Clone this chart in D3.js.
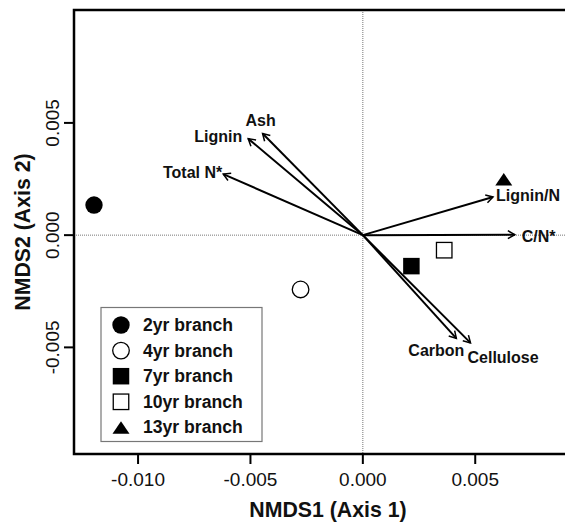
<!DOCTYPE html>
<html lang="en">
<head>
<meta charset="UTF-8">
<title>NMDS branch litter</title>
<script src="https://d3js.org/d3.v7.min.js"></script>
<style>
    body { margin: 0; background: #fff; }
    svg { display: block; font-family: "Liberation Sans", Arial, sans-serif; }
    .tick-label { font-size: 19px; fill: #111; }
    .axis-title { font-size: 21.3px; font-weight: bold; fill: #111; }
    .vec-label { font-size: 16px; font-weight: bold; fill: #111; }
    .legend-label { font-size: 17.6px; font-weight: bold; fill: #111; }
</style>
</head>
<body>
<div id="chart"></div>
<script>
// sample scores
const groups = ["2yr branch", "4yr branch", "7yr branch", "10yr branch", "13yr branch"];
const nmds1 = [-0.01196, -0.00277, 0.00216, 0.00362, 0.00627];
const nmds2 = [0.00134, -0.00242, -0.00138, -0.00067, 0.00249];
const shapes = ["circleFilled", "circleOpen", "squareFilled", "squareOpen", "triangleFilled"];

// fitted vectors
const vars = ["Ash", "Lignin", "Total N*", "Lignin/N", "C/N*", "Carbon", "Cellulose"];
const vecX = [-0.00446, -0.0051, -0.00621, 0.00579, 0.00676, 0.00416, 0.00479];
const vecY = [0.00453, 0.0043, 0.00272, 0.0017, 0.00002, -0.0046, -0.0048];

const xTicks = [-0.010, -0.005, 0.000, 0.005];
const yTicks = [-0.005, 0.000, 0.005];
const xLim = [-0.01285, 0.00975];
const yLim = [-0.00975, 0.01003];

const W = 565, H = 523;
const margin = {top: 10, left: 74};
const plotW = 508, plotH = 444;

const svg = d3.select("#chart").append("svg")
    .attr("width", W)
    .attr("height", H);

const x = d3.scaleLinear().domain(xLim).range([margin.left, margin.left + plotW]);
const y = d3.scaleLinear().domain(yLim).range([margin.top + plotH, margin.top]);

// zero lines
svg.append("line")
    .attr("x1", x(0)).attr("x2", x(0))
    .attr("y1", margin.top).attr("y2", margin.top + plotH)
    .attr("stroke", "#777").attr("stroke-width", 1).attr("stroke-dasharray", "1,1");
svg.append("line")
    .attr("x1", margin.left).attr("x2", margin.left + plotW)
    .attr("y1", y(0)).attr("y2", y(0))
    .attr("stroke", "#777").attr("stroke-width", 1).attr("stroke-dasharray", "1,1");

// draw a symbol at cx, cy
function drawSymbol(g, shape, cx, cy) {
    if (shape.startsWith("circle")) {
        g.append("circle")
            .attr("cx", cx).attr("cy", cy).attr("r", shape === "circleFilled" ? 8.7 : 8.3)
            .attr("fill", shape === "circleFilled" ? "#000" : "#fff")
            .attr("stroke", "#000").attr("stroke-width", shape === "circleFilled" ? 0 : 1.3);
    } else if (shape.startsWith("square")) {
        const s = shape === "squareFilled" ? 16.5 : 15.5;
        g.append("rect")
            .attr("x", cx - s / 2).attr("y", cy - s / 2)
            .attr("width", s).attr("height", s)
            .attr("fill", shape === "squareFilled" ? "#000" : "#fff")
            .attr("stroke", "#000").attr("stroke-width", shape === "squareFilled" ? 0 : 1.3);
    } else {
        const w = 17, h = 12.5;
        g.append("path")
            .attr("d", `M${cx - w / 2},${cy + h / 2}L${cx + w / 2},${cy + h / 2}L${cx},${cy - h / 2}Z`)
            .attr("fill", "#000");
    }
}

// points
const pts = svg.append("g");
groups.forEach((grp, i) => drawSymbol(pts, shapes[i], x(nmds1[i]), y(nmds2[i])));

// vectors
const labelPos = {
    "Ash": {dx: -2, dy: -7, anchor: "middle"},
    "Lignin": {dx: -6, dy: 3, anchor: "end"},
    "Total N*": {dx: -1, dy: 4, anchor: "end"},
    "Lignin/N": {dx: 3, dy: 4, anchor: "start"},
    "C/N*": {dx: 7, dy: 7, anchor: "start"},
    "Carbon": {dx: -20, dy: 18, anchor: "middle"},
    "Cellulose": {dx: -3, dy: 20, anchor: "start"}
};
const vg = svg.append("g");
const headLen = 8, headAng = Math.PI / 6;
vars.forEach((v, i) => {
    const x0 = x(0), y0 = y(0), x1 = x(vecX[i]), y1 = y(vecY[i]);
    const a = Math.atan2(y1 - y0, x1 - x0);
    vg.append("line")
        .attr("x1", x0).attr("y1", y0).attr("x2", x1).attr("y2", y1)
        .attr("stroke", "#000").attr("stroke-width", 2);
    const p1 = [x1 - headLen * Math.cos(a - headAng), y1 - headLen * Math.sin(a - headAng)];
    const p2 = [x1 - headLen * Math.cos(a + headAng), y1 - headLen * Math.sin(a + headAng)];
    vg.append("path")
        .attr("d", `M${p1[0]},${p1[1]}L${x1},${y1}L${p2[0]},${p2[1]}`)
        .attr("fill", "none").attr("stroke", "#000").attr("stroke-width", 1.5);
    const lp = labelPos[v];
    vg.append("text")
        .attr("class", "vec-label")
        .attr("x", x1 + lp.dx).attr("y", y1 + lp.dy)
        .attr("text-anchor", lp.anchor)
        .text(v);
});

// plot box
svg.append("rect")
    .attr("x", margin.left).attr("y", margin.top)
    .attr("width", plotW).attr("height", plotH)
    .attr("fill", "none").attr("stroke", "#000").attr("stroke-width", 2.5);

// x axis
const xAxis = svg.append("g");
xTicks.forEach(t => {
    xAxis.append("line")
        .attr("x1", x(t)).attr("x2", x(t))
        .attr("y1", margin.top + plotH).attr("y2", margin.top + plotH + 10)
        .attr("stroke", "#000").attr("stroke-width", 2);
    xAxis.append("text")
        .attr("class", "tick-label")
        .attr("x", x(t)).attr("y", 486)
        .attr("text-anchor", "middle")
        .text(d3.format(".3f")(t).replace("−", "-"));
});
svg.append("text")
    .attr("class", "axis-title")
    .attr("x", margin.left + plotW / 2).attr("y", 517)
    .attr("text-anchor", "middle")
    .text("NMDS1 (Axis 1)");

// y axis
const yAxis = svg.append("g");
yTicks.forEach(t => {
    yAxis.append("line")
        .attr("x1", margin.left - 10).attr("x2", margin.left)
        .attr("y1", y(t)).attr("y2", y(t))
        .attr("stroke", "#000").attr("stroke-width", 2);
    yAxis.append("text")
        .attr("class", "tick-label")
        .attr("transform", `translate(59,${y(t)}) rotate(-90)`)
        .attr("text-anchor", "middle")
        .text(d3.format(".3f")(t).replace("−", "-"));
});
svg.append("text")
    .attr("class", "axis-title")
    .attr("transform", `translate(30,${margin.top + plotH / 2}) rotate(-90)`)
    .attr("text-anchor", "middle")
    .text("NMDS2 (Axis 2)");

// legend
const legend = svg.append("g");
legend.append("rect")
    .attr("x", 101).attr("y", 307.5)
    .attr("width", 161).attr("height", 134)
    .attr("fill", "#fff").attr("stroke", "#777").attr("stroke-width", 1.2);
groups.forEach((grp, i) => {
    const cy = 325 + i * 25.6;
    drawSymbol(legend, shapes[i], 121, cy);
    legend.append("text")
        .attr("class", "legend-label")
        .attr("x", 143).attr("y", cy + 6)
        .text(grp);
});
</script>
</body>
</html>
